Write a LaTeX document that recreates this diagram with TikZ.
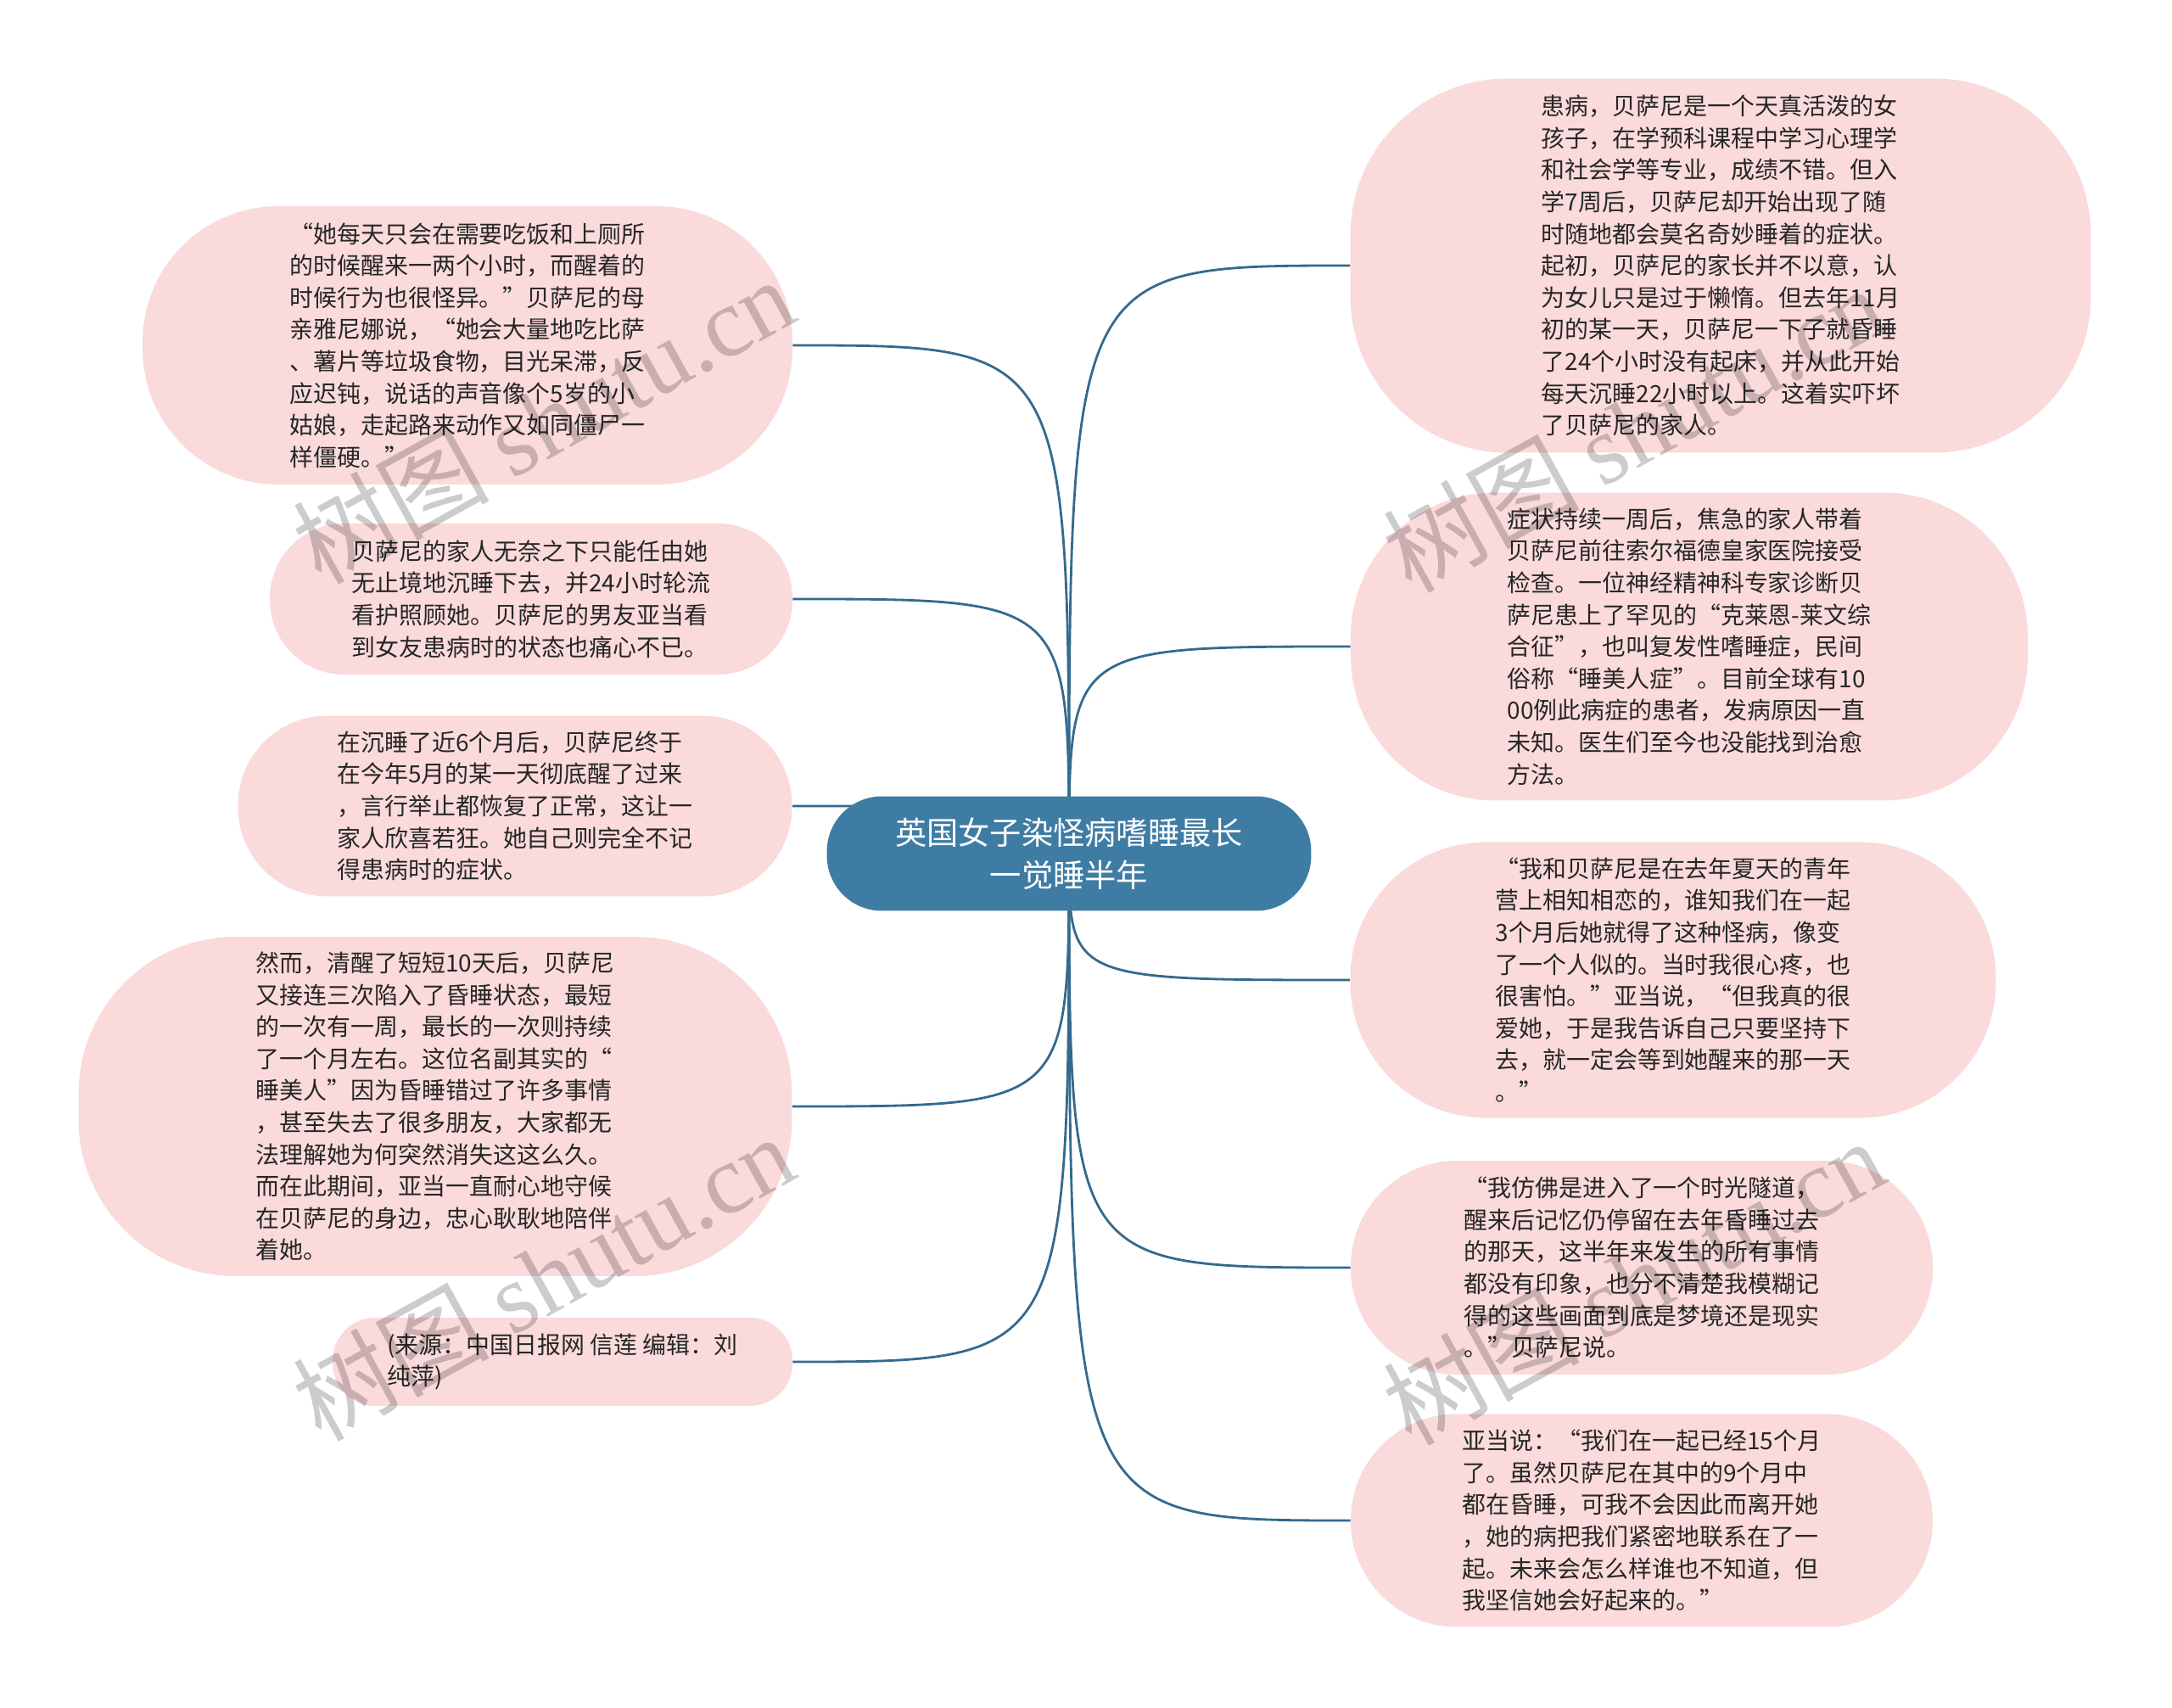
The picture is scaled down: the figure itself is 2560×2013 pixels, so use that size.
\documentclass[tikz,border=0pt]{standalone}
\usepackage{fontspec}
\newfontfamily\cjk{Noto Sans CJK SC}
\newfontfamily\wmserif{Liberation Serif}
\usetikzlibrary{backgrounds}
\definecolor{leafpink}{RGB}{250,218,218}
\definecolor{rootblue}{RGB}{63,124,164}
\definecolor{linkblue}{RGB}{52,106,142}
\definecolor{leaftext}{RGB}{38,38,38}

\begin{document}
\begin{tikzpicture}[x=0.02cm,y=-0.02cm,
    root/.style={fill=rootblue,text=white,rounded corners=1.3cm,minimum width=11.42cm,minimum height=2.7cm,inner sep=0pt,align=center,font=\cjk\fontsize{21.2pt}{28.7pt}\selectfont},
    leaf/.style={fill=leafpink,text=leaftext,inner sep=0pt,align=left,font=\cjk\fontsize{15.9pt}{21.4pt}\selectfont},
    link/.style={draw=linkblue,line width=1.6pt},
    wmark/.style={text=black,opacity=0.2,rotate=29,inner sep=0pt,font=\fontsize{66pt}{66pt}\selectfont}]
    \useasboundingbox (0,0) rectangle (2560,2013);

    \node [root] (root) at (1260,1006) {英国女子染怪病嗜睡最长\\一觉睡半年};

    \node [leaf,minimum width=17.46cm,minimum height=8.82cm,rounded corners=3.7cm] (r1) at (2028,313)
        {患病，贝萨尼是一个天真活泼的女\\孩子，在学预科课程中学习心理学\\和社会学等专业，成绩不错。但入\\学7周后，贝萨尼却开始出现了随\\时随地都会莫名奇妙睡着的症状。\\起初，贝萨尼的家长并不以意，认\\为女儿只是过于懒惰。但去年11月\\初的某一天，贝萨尼一下子就昏睡\\了24个小时没有起床，并从此开始\\每天沉睡22小时以上。这着实吓坏\\了贝萨尼的家人。};
    \node [leaf,minimum width=15.96cm,minimum height=7.26cm,rounded corners=3.4cm] (r2) at (1991,762)
        {症状持续一周后，焦急的家人带着\\贝萨尼前往索尔福德皇家医院接受\\检查。一位神经精神科专家诊断贝\\萨尼患上了罕见的“克莱恩-莱文综\\合征”，也叫复发性嗜睡症，民间\\俗称“睡美人症”。目前全球有10\\00例此病症的患者，发病原因一直\\未知。医生们至今也没能找到治愈\\方法。};
    \node [leaf,minimum width=15.22cm,minimum height=6.5cm,rounded corners=3.2cm] (r3) at (1972,1155)
        {“我和贝萨尼是在去年夏天的青年\\营上相知相恋的，谁知我们在一起\\3个月后她就得了这种怪病，像变\\了一个人似的。当时我很心疼，也\\很害怕。”亚当说，“但我真的很\\爱她，于是我告诉自己只要坚持下\\去，就一定会等到她醒来的那一天\\。”};
    \node [leaf,minimum width=13.72cm,minimum height=5.04cm,rounded corners=2.5cm] (r4) at (1935,1494)
        {“我仿佛是进入了一个时光隧道，\\醒来后记忆仍停留在去年昏睡过去\\的那天，这半年来发生的所有事情\\都没有印象，也分不清楚我模糊记\\得的这些画面到底是梦境还是现实\\。”贝萨尼说。};
    \node [leaf,minimum width=13.72cm,minimum height=5.02cm,rounded corners=2.5cm] (r5) at (1935,1792)
        {亚当说：“我们在一起已经15个月\\了。虽然贝萨尼在其中的9个月中\\都在昏睡，可我不会因此而离开她\\，她的病把我们紧密地联系在了一\\起。未来会怎么样谁也不知道，但\\我坚信她会好起来的。”};

    \node [leaf,minimum width=15.32cm,minimum height=6.56cm,rounded corners=3.2cm] (l1) at (551,407)
        {“她每天只会在需要吃饭和上厕所\\的时候醒来一两个小时，而醒着的\\时候行为也很怪异。”贝萨尼的母\\亲雅尼娜说，“她会大量地吃比萨\\、薯片等垃圾食物，目光呆滞，反\\应迟钝，说话的声音像个5岁的小\\姑娘，走起路来动作又如同僵尸一\\样僵硬。”};
    \node [leaf,minimum width=12.32cm,minimum height=3.56cm,rounded corners=1.75cm] (l2) at (626,706)
        {贝萨尼的家人无奈之下只能任由她\\无止境地沉睡下去，并24小时轮流\\看护照顾她。贝萨尼的男友亚当看\\到女友患病时的状态也痛心不已。};
    \node [leaf,minimum width=13.06cm,minimum height=4.26cm,rounded corners=2.1cm] (l3) at (607,950)
        {在沉睡了近6个月后，贝萨尼终于\\在今年5月的某一天彻底醒了过来\\，言行举止都恢复了正常，这让一\\家人欣喜若狂。她自己则完全不记\\得患病时的症状。};
    \node [leaf,minimum width=16.82cm,minimum height=8cm,rounded corners=3.7cm] (l4) at (513,1304)
        {然而，清醒了短短10天后，贝萨尼\\又接连三次陷入了昏睡状态，最短\\的一次有一周，最长的一次则持续\\了一个月左右。这位名副其实的“\\睡美人”因为昏睡错过了许多事情\\，甚至失去了很多朋友，大家都无\\法理解她为何突然消失这这么久。\\而在此期间，亚当一直耐心地守候\\在贝萨尼的身边，忠心耿耿地陪伴\\着她。};
    \node [leaf,minimum width=10.84cm,minimum height=2.08cm,rounded corners=1cm] (l5) at (663,1605)
        {(来源：中国日报网 信莲 编辑：刘\\纯萍)};

    \begin{scope}[on background layer]
        \foreach \leafname in {r1,r2,r3,r4,r5}
            \draw [link] (root.center) .. controls (root.center |- \leafname.west) .. (\leafname.west);
        \foreach \leafname in {l1,l2,l3,l4,l5}
            \draw [link] (root.center) .. controls (root.center |- \leafname.east) .. (\leafname.east);
    \end{scope}

    \node [wmark] (wm1) at (640,495) {\cjk 树图 \wmserif shutu.cn};
    \node [wmark] (wm2) at (1925,505) {\cjk 树图 \wmserif shutu.cn};
    \node [wmark] (wm3) at (640,1505) {\cjk 树图 \wmserif shutu.cn};
    \node [wmark] (wm4) at (1925,1510) {\cjk 树图 \wmserif shutu.cn};
\end{tikzpicture}
\end{document}
